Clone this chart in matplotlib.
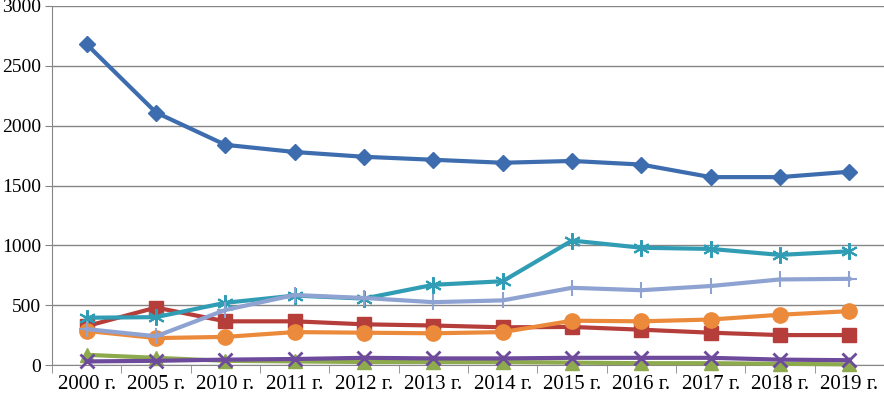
import numpy as np
import matplotlib
matplotlib.use('Agg')
from matplotlib import pyplot as plt

years = ['2000 г.', '2005 г.', '2010 г.', '2011 г.', '2012 г.', '2013 г.',
         '2014 г.', '2015 г.', '2016 г.', '2017 г.', '2018 г.', '2019 г.']

s_blue = [2680, 2110, 1840, 1780, 1740, 1715, 1690, 1705, 1675, 1570, 1570, 1615]
s_red = [325, 480, 365, 365, 340, 330, 315, 318, 295, 270, 250, 250]
s_green = [85, 60, 35, 30, 25, 25, 25, 20, 15, 15, 10, 5]
s_purple = [30, 35, 45, 50, 60, 55, 55, 60, 60, 60, 45, 40]
s_teal = [395, 400, 520, 580, 555, 670, 700, 1040, 980, 970, 920, 950]
s_orange = [285, 225, 235, 275, 270, 265, 275, 370, 365, 380, 420, 450]
s_light = [300, 240, 460, 585, 560, 525, 540, 645, 625, 660, 715, 720]

plt.rcParams['font.family'] = ['Liberation Serif', 'DejaVu Serif']

fig = plt.figure(figsize=(8.84, 3.94), dpi=100)
ax = fig.add_axes([52/884, 29/394, 832/884, 359/394])

x = np.arange(len(years))
lw = 3
ax.plot(x, s_blue, color='#3D6DAE', lw=lw, marker='D', ms=8, zorder=3)
ax.plot(x, s_red, color='#B53D3A', lw=lw, marker='s', ms=10, zorder=3)
ax.plot(x, s_green, color='#8DAA4C', lw=lw, marker='^', ms=10, zorder=3, clip_on=False)
ax.plot(x, s_purple, color='#6E4A9C', lw=lw, marker='x', ms=10, mew=2, zorder=3, clip_on=False)
ax.plot(x, s_teal, color='#319DB4', lw=lw, marker=(6, 2, 0), ms=12, mew=1.5, zorder=3)
ax.plot(x, s_orange, color='#EC8A3C', lw=lw, marker='o', ms=11, zorder=3)
ax.plot(x, s_light, color='#8FA3D2', lw=lw, marker='+', ms=12, mew=1.5, zorder=3)

ax.set_xlim(-0.5, 11.5)
ax.set_ylim(0, 3000)
ax.set_yticks(range(0, 3001, 500))
ax.set_xticks(x)
ax.set_xticklabels(years)
ax.set_xticks(np.arange(-0.5, 12, 1), minor=True)
ax.tick_params(axis='x', which='major', length=0, labelsize=15, pad=7)
ax.tick_params(axis='x', which='minor', length=6, color='#868686', direction='out')
ax.tick_params(axis='y', length=5, color='#868686', labelsize=14, pad=3)
ax.yaxis.grid(True, color='#868686', lw=1)
ax.set_axisbelow(True)
for side in ['top', 'right']:
    ax.spines[side].set_visible(False)
for side in ['left', 'bottom']:
    ax.spines[side].set_color('#868686')

fig.savefig('out.png', dpi=100)
